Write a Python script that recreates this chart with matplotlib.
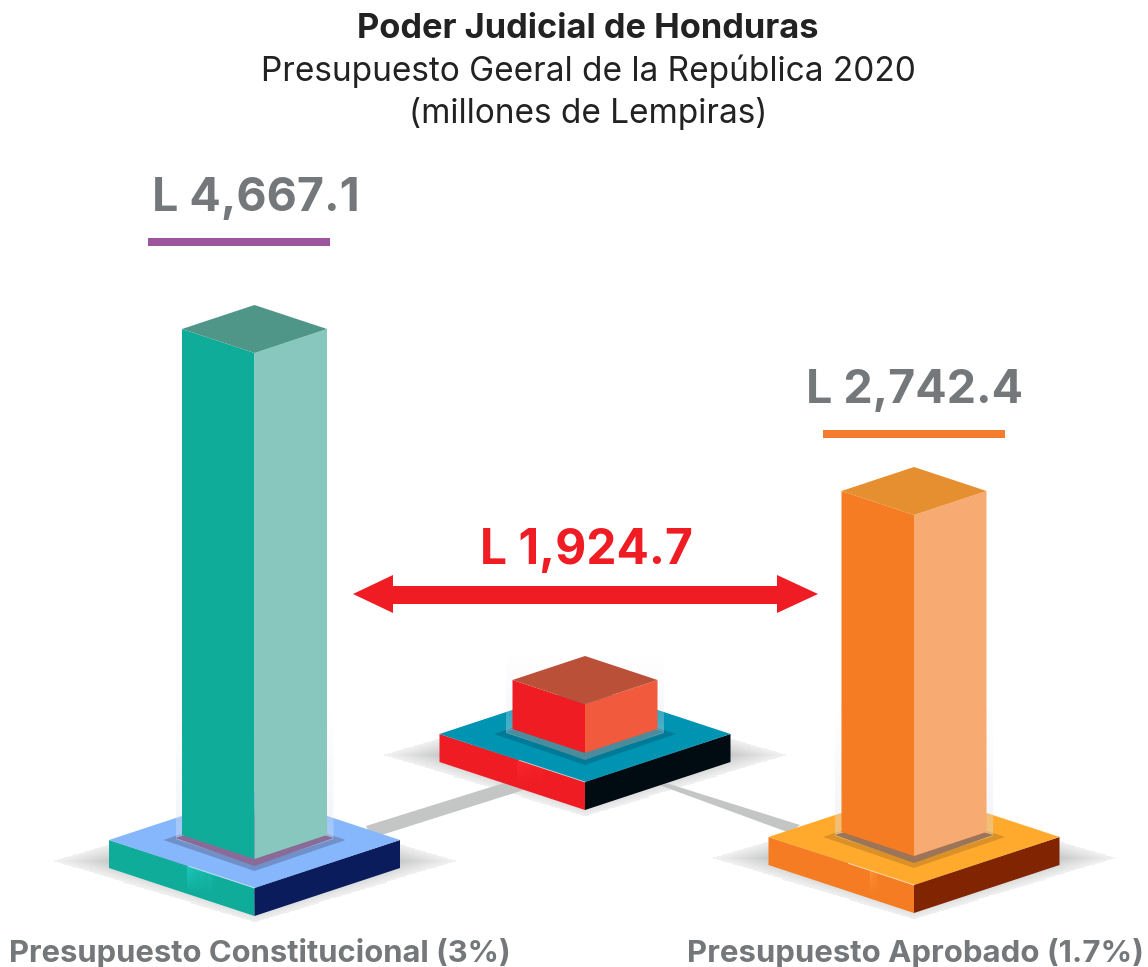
import numpy as np
import matplotlib
matplotlib.use("Agg")
import matplotlib.pyplot as plt
from matplotlib.patches import Polygon, Rectangle
from matplotlib.colors import to_rgb

# Values as printed on the infographic (millones de Lempiras)
categories = ["Presupuesto Constitucional", "Presupuesto Aprobado"]
shares = ["3%", "1.7%"]
budget = [4667.1, 2742.4]
gap = [1924.7]

title = "Poder Judicial de Honduras"
subtitle = ["Presupuesto Geeral de la República 2020", "(millones de Lempiras)"]

# the artwork is not proportional, so value -> pixel height is piecewise
scale_values = [1924.7, 2742.4, 4667.1]
scale_px = [49, 341, 506]

FONT = "Inter"
GREY = "#75787b"

# cx, plate top y (left corner), colours
styles = {
    "left": dict(cx=254.5, plate_y=840, col_y=835, top="#4f9689", lft="#10ac9a", rgt="#88c7bd",
                 ptop="#86b7fd", plft="#10ac9a", prgt="#0a1c5c", foot="#6f90c8", contact="#8a6a96",
                 glow="#1fd0c4", glow_x=(187, 217)),
    "mid": dict(cx=585, plate_y=734, col_y=729, top="#bb5038", lft="#ef1c24", rgt="#f25a3d",
                ptop="#0094b3", plft="#ef1c24", prgt="#010b12", foot="#007a96", contact="#4a8c9b",
                glow="#ff2a30", glow_x=(517, 548)),
    "right": dict(cx=914, plate_y=837, col_y=832, top="#e58f30", lft="#f57c23", rgt="#f7aa72",
                  ptop="#ffaa2c", plft="#f57c23", prgt="#812402", foot="#dc9126", contact="#9c7458",
                  glow="#ff9a3a", glow_x=(870, 878)),
}


def value_px(v):
    return float(np.interp(v, scale_values, scale_px))


def gradient(ax, extent, alpha, color, clip=None, z=1):
    # alpha is a 2d array, first row is the top of the extent
    rgba = np.zeros(alpha.shape + (4,))
    rgba[..., :3] = to_rgb(color)
    rgba[..., 3] = alpha
    im = ax.imshow(rgba, extent=extent, origin="upper", aspect="auto", zorder=z, interpolation="bilinear")
    if clip is not None:
        patch = Polygon(clip, closed=True, transform=ax.transData, fc="none", ec="none")
        ax.add_patch(patch)
        im.set_clip_path(patch)
    return im


def shadow(ax, s):
    cx, cy = s["cx"], s["plate_y"] + 21
    hw, hh = 204, 63
    xs = np.linspace(cx - hw, cx + hw, 200)
    ys = np.linspace(cy - hh, cy + hh, 120)
    xx, yy = np.meshgrid(xs, ys)
    d = np.abs(xx - cx) / hw + np.abs(yy - cy) / hh
    alpha = np.clip(0.08 + 1.05 * (1 - d) ** 1.1, 0, 0.75)
    diamond = [(cx - hw, cy), (cx, cy - hh), (cx + hw, cy), (cx, cy + hh)]
    gradient(ax, (cx - hw, cx + hw, cy + hh, cy - hh), alpha, "#5c5f5e", clip=diamond, z=2)


def draw_tower(ax, s, height):
    cx, py = s["cx"], s["plate_y"]
    pw, pd, pt = 145.5, 48, 28   # plate half width, half depth, thickness
    shadow(ax, s)

    # plate
    ax.add_patch(Polygon([(cx - pw, py), (cx, py + pd), (cx, py + pd + pt), (cx - pw, py + pt)],
                         fc=s["plft"], ec="none", zorder=4))
    ax.add_patch(Polygon([(cx + pw, py), (cx, py + pd), (cx, py + pd + pt), (cx + pw, py + pt)],
                         fc=s["prgt"], ec="none", zorder=4))
    ax.add_patch(Polygon([(cx - pw, py), (cx, py - pd), (cx + pw, py), (cx, py + pd)],
                         fc=s["ptop"], ec="none", zorder=5))
    ax.plot([cx - pw * 0.45, cx], [py + pd * 0.55, py + pd], color="white", lw=0.7, alpha=0.6, zorder=6)

    # little reflection on the front of the plate
    x0, x1 = s["glow_x"]
    yt = py + (x0 - (cx - pw)) * pd / pw
    a = np.linspace(0.75, 0, 30)[:, None] * np.linspace(1, 0.15, 30)[None, :]
    a[:, int(a.shape[1] * 0.72):int(a.shape[1] * 0.86)] = np.linspace(0.5, 0, 30)[:, None]
    face = [(cx - pw, py), (cx, py + pd), (cx, py + pd + pt), (cx - pw, py + pt)]
    gradient(ax, (x0, x1, yt + 28, yt), a, s["glow"], clip=face, z=5)

    # footprints on the plate
    fw, fd = 91, 31
    fy = py + 0
    ax.add_patch(Polygon([(cx - fw, fy), (cx, fy + fd), (cx + fw, fy), (cx, fy - fd)],
                         fc=s["foot"], ec="none", zorder=6))
    cw, cd = 79, 26
    ax.add_patch(Polygon([(cx - cw, fy - 2), (cx, fy + cd), (cx + cw, fy - 2), (cx, fy - cd)],
                         fc=s["contact"], ec="none", zorder=8.5))

    # glass halo behind the column
    hw = 79
    base = s["col_y"]
    top = base - min(height + 25, 125)
    a = np.linspace(0, 0.5, 80)[:, None] * np.ones((80, 2))
    halo = [(cx - hw, top), (cx + hw, top), (cx + hw, base + 4), (cx, base + 30), (cx - hw, base + 4)]
    gradient(ax, (cx - hw, cx + hw, base + 32, top), a, "#dde4ee", clip=halo, z=8)

    # column
    w, d = 72.5, 24
    front = base + 24
    ftop = front - height
    ltop = ftop - d
    ax.add_patch(Polygon([(cx - w, ltop), (cx, ftop), (cx, front), (cx - w, base)],
                         fc=s["lft"], ec="none", zorder=9))
    ax.add_patch(Polygon([(cx + w, ltop), (cx, ftop), (cx, front), (cx + w, base)],
                         fc=s["rgt"], ec="none", zorder=9))
    ax.add_patch(Polygon([(cx - w, ltop), (cx, ltop - d), (cx + w, ltop), (cx, ftop)],
                         fc=s["top"], ec="none", zorder=10))


fig = plt.figure(figsize=(11.48, 9.67), dpi=100)
ax = fig.add_axes([0, 0, 1, 1])

# grey links between the towers
link = "#c4c6c5"
ax.add_patch(Polygon([(366, 826), (520, 778), (530, 788), (372, 838)], fc=link, ec="none", zorder=3))
ax.add_patch(Polygon([(640, 778), (650, 778), (800, 825), (790, 833)], fc=link, ec="none", zorder=3))

draw_tower(ax, styles["left"], value_px(budget[0]))
draw_tower(ax, styles["mid"], value_px(gap[0]))
draw_tower(ax, styles["right"], value_px(budget[1]))

# double arrow
red = "#ef1c24"
ax.add_patch(Polygon([(353, 594), (393, 575), (393, 586), (777, 586), (777, 575), (818, 594),
                      (777, 613), (777, 604), (393, 604), (393, 613)], fc=red, ec="none", zorder=12))

# underlines
ax.add_patch(Rectangle((148, 238), 182, 8, fc="#9e559f", ec="none", zorder=12))
ax.add_patch(Rectangle((823, 430), 182, 8, fc="#f47b30", ec="none", zorder=12))

# texts
ax.text(588, 29, title, ha="center", va="center", fontsize=24.8, fontweight="bold", color="#222222", family=FONT)
ax.text(588, 71, subtitle[0], ha="center", va="center", fontsize=24, color="#222222", family=FONT)
ax.text(588, 113, subtitle[1], ha="center", va="center", fontsize=24, color="#222222", family=FONT)

ax.text(256, 199, f"L {budget[0]:,.1f}", ha="center", va="center", fontsize=33.5, fontweight="bold", color=GREY, family=FONT)
ax.text(915, 391, f"L {budget[1]:,.1f}", ha="center", va="center", fontsize=33.5, fontweight="bold", color=GREY, family=FONT)
ax.text(586, 551, f"L {gap[0]:,.1f}", ha="center", va="center", fontsize=34.5, fontweight="bold", color=red, family=FONT)

ax.text(260, 953, f"{categories[0]} ({shares[0]})", ha="center", va="center", fontsize=22.3, fontweight="bold", color=GREY, family=FONT)
ax.text(915.5, 953, f"{categories[1]} ({shares[1]})", ha="center", va="center", fontsize=22.45, fontweight="bold", color=GREY, family=FONT)

ax.set_xlim(0, 1148)
ax.set_ylim(967, 0)
ax.axis("off")
fig.savefig("out.png", dpi=100, facecolor="white")
plt.close(fig)
